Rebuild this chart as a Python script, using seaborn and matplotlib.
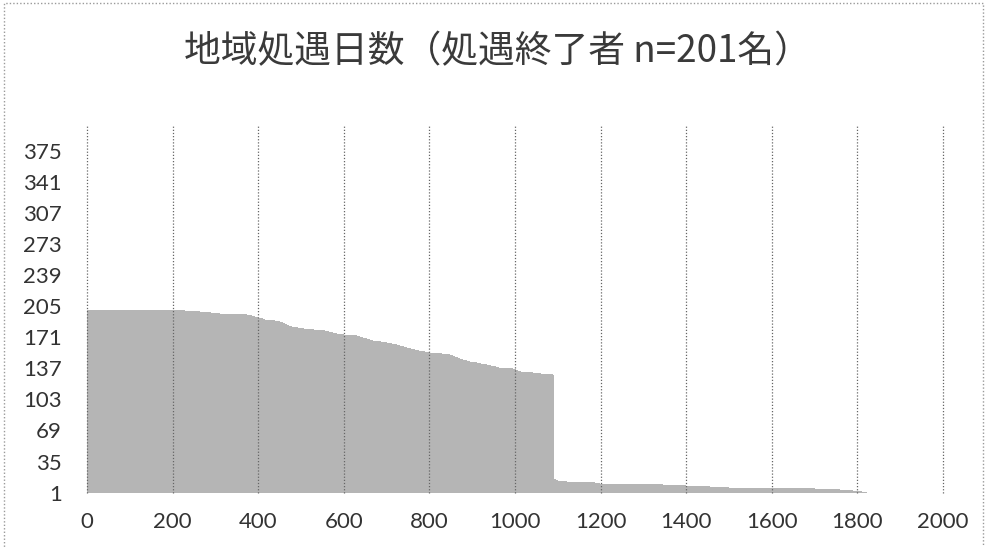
import matplotlib
matplotlib.use("Agg")
import matplotlib.pyplot as plt
import matplotlib.patches as mpatches
import numpy as np
import pandas as pd
import seaborn as sns

# Days under community supervision per person, ordered from longest (No.1, bottom)
# to shortest (No.201, top)
days = [
    1822, 1810, 1790, 1760, 1700, 1603, 1500, 1456, 1400, 1346,
    1199, 1187, 1121, 1100, 1095,
    1092, 1092, 1092, 1092, 1092, 1092, 1092, 1092, 1092, 1092,
    1092, 1092, 1092, 1092, 1092, 1092, 1092, 1092, 1092, 1092,
    1092, 1092, 1092, 1092, 1092, 1092, 1092, 1092, 1092, 1092,
    1092, 1092, 1092, 1092, 1092, 1092, 1092, 1092, 1092, 1092,
    1092, 1092, 1092, 1092, 1092, 1092, 1092, 1092, 1092, 1092,
    1092, 1092, 1092, 1092, 1092, 1092, 1092, 1092, 1092, 1092,
    1092, 1092, 1092, 1092, 1092, 1092, 1092, 1092, 1092, 1092,
    1092, 1092, 1092, 1092, 1092, 1092, 1092, 1092, 1092, 1092,
    1092, 1092, 1092, 1092, 1092, 1092, 1092, 1092, 1092, 1092,
    1092, 1092, 1092, 1092, 1092, 1092, 1092, 1092, 1092, 1092,
    1092, 1092, 1092, 1092, 1092, 1092, 1092, 1092, 1092, 1092,
    1092, 1092, 1092, 1092,
    1089, 1060, 1042, 1028, 1015, 1008, 1002, 996,
    962, 955, 945, 934, 920, 911, 903, 895,
    887, 879, 872, 866, 860, 855, 848, 830,
    800, 790, 782, 775, 766, 757, 748, 740,
    732, 724, 712, 700, 688, 677, 669, 661,
    654, 646, 638, 630, 600, 585, 575, 565,
    555, 545, 530, 508, 492, 478, 472, 468,
    463, 458, 451, 440, 422, 416, 411, 400,
    392, 385, 374, 311, 290, 264, 230, 201,
]
person_no = list(range(1, len(days) + 1))

x_ticks = [0, 200, 400, 600, 800, 1000, 1200, 1400, 1600, 1800, 2000]
y_ticks = [1, 35, 69, 103, 137, 171, 205, 239, 273, 307, 341, 375]
title = "地域処遇日数（処遇終了者 n=201名）"

df = pd.DataFrame({"person": person_no, "days": days})

sns.set_style("white")
plt.rcParams["font.family"] = ["Lato", "DejaVu Sans"]

W, H = 987, 547
fig = plt.figure(figsize=(W / 100, H / 100), dpi=100)
fig.patch.set_facecolor("white")

left, right, top, bottom = 87, 943, 126, 493
ax = fig.add_axes([left / W, 1 - bottom / H, (right - left) / W, (bottom - top) / H])

sns.barplot(data=df, x="days", y="person", orient="h", native_scale=True,
            color="#b5b5b5", saturation=1, width=1.0, errorbar=None,
            linewidth=0, ax=ax)

ax.set_xlim(0, 2000)
ax.set_ylim(0.5, 402.5)
ax.set_xticks(x_ticks)
ax.set_xticklabels([str(v) for v in x_ticks])
ax.set_yticks(y_ticks)
ax.set_yticklabels([str(v) for v in y_ticks])
ax.set_xlabel("")
ax.set_ylabel("")
ax.tick_params(axis="both", length=0, labelsize=16, labelcolor="#333333")
ax.tick_params(axis="x", pad=14)
ax.tick_params(axis="y", pad=18)

for s in ax.spines.values():
    s.set_visible(False)

ax.set_axisbelow(False)
ax.grid(False)
for xv in x_ticks:
    ax.axvline(xv, color="#666666", linewidth=0.9, linestyle=(0, (1, 1.5)),
               zorder=5, clip_on=False)

fig.text(497 / W, 1 - 52 / H, title, ha="center", va="center", fontsize=26.5,
         color="#3a3a3a", family=["Noto Sans CJK JP", "DejaVu Sans"])

# Dotted chart-area border
border = mpatches.Rectangle((4 / W, -0.02), (983 - 4) / W, 1 - 3 / H + 0.02,
                            transform=fig.transFigure, fill=False,
                            edgecolor="#9a9a9a", linewidth=1.0,
                            linestyle=(0, (1, 1.5)))
fig.patches.append(border)

fig.savefig("out.png", dpi=100)
